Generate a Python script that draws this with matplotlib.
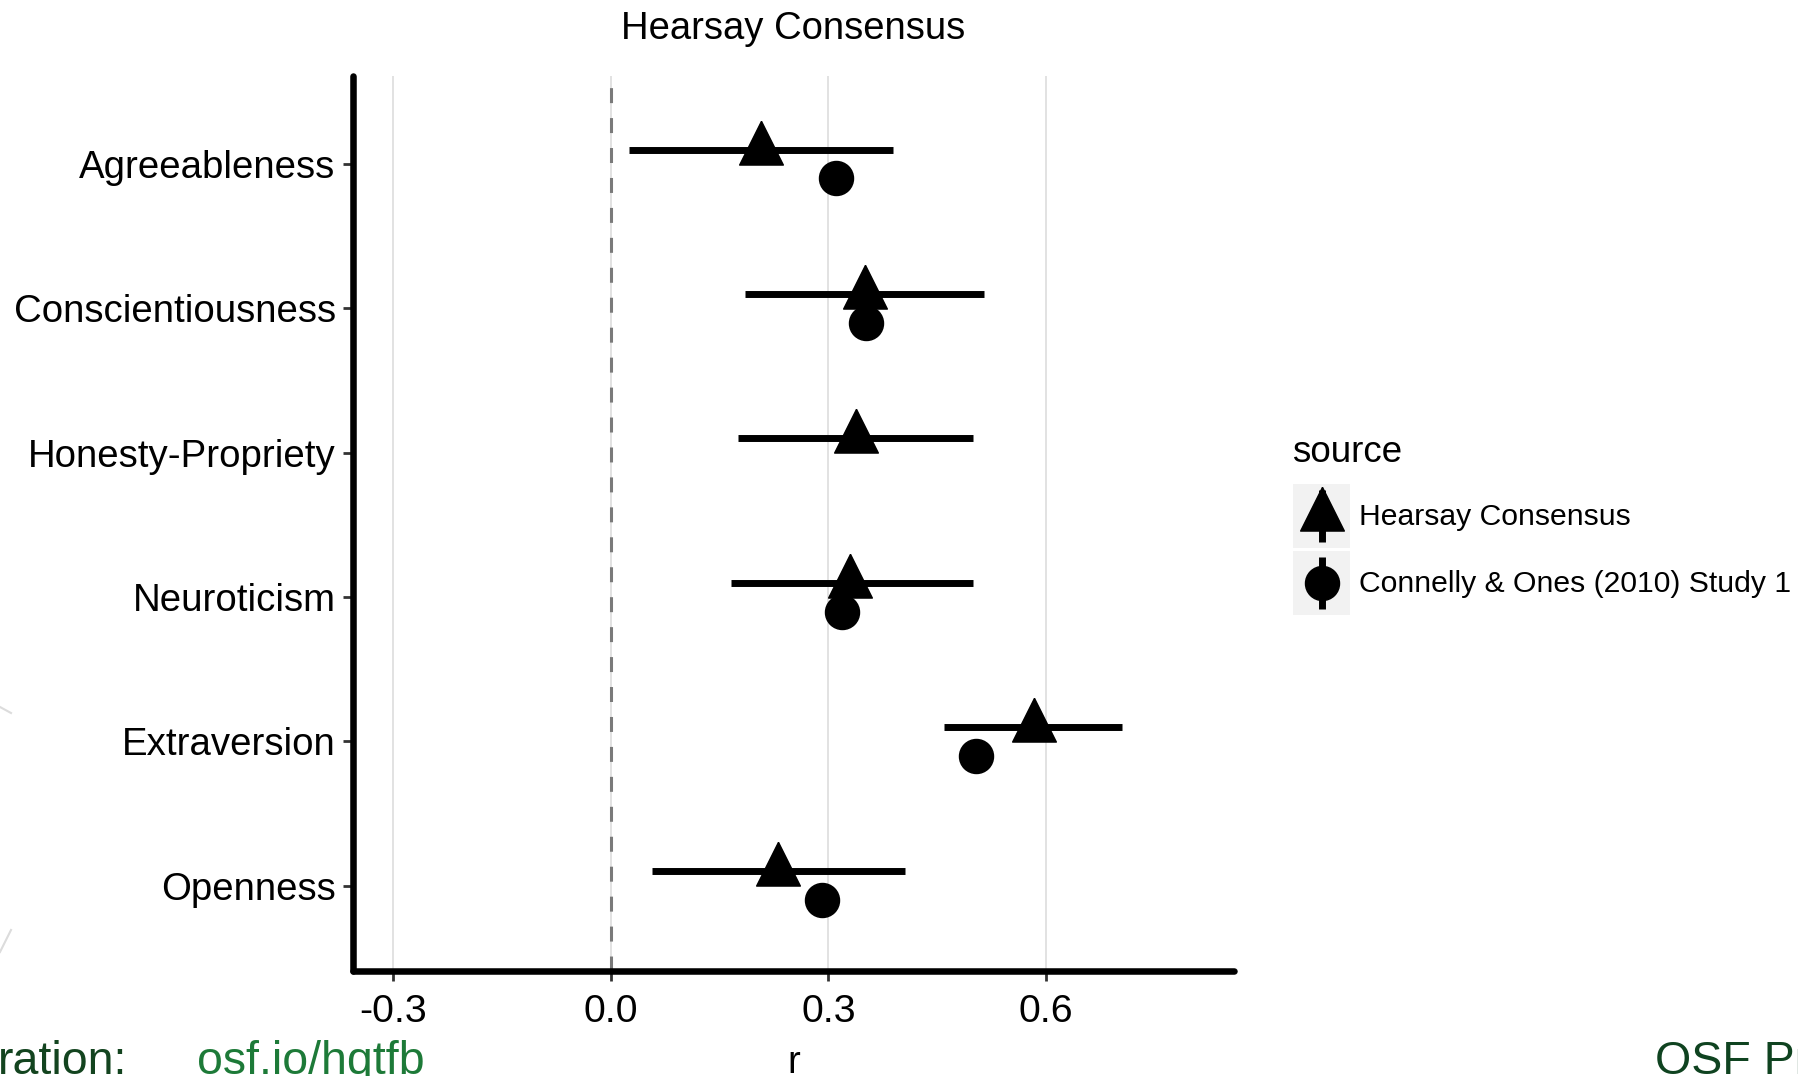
import numpy as np
import matplotlib.pyplot as plt
from matplotlib.patches import Rectangle

# --- data ---
traits = ['Agreeableness', 'Conscientiousness', 'Honesty-Propriety',
          'Neuroticism', 'Extraversion', 'Openness']
hearsay_r = [0.207, 0.350, 0.338, 0.330, 0.583, 0.231]
hearsay_lo = [0.025, 0.185, 0.175, 0.166, 0.460, 0.057]
hearsay_hi = [0.389, 0.515, 0.500, 0.499, 0.704, 0.406]
connelly_r = [0.311, 0.352, np.nan, 0.319, 0.503, 0.291]
series_labels = ['Hearsay Consensus', 'Connelly & Ones (2010) Study 1']
x_ticks = [-0.3, 0.0, 0.3, 0.6]

W, H = 1798, 1076
FONT = ['Liberation Sans', 'DejaVu Sans']
plt.rcParams['font.family'] = FONT

# triangle with its centroid at the origin (ggplot shape 17)
TRI = [(0, 0.667), (-0.5, -0.333), (0.5, -0.333), (0, 0.667)]
TRI_MS = 42
DOT_MS = 24.5

fig = plt.figure(figsize=(W / 100, H / 100), dpi=100)
fig.patch.set_facecolor('white')
ax = fig.add_axes([353 / W, 1 - 971 / H, (1234 - 353) / W, (971 - 76) / H])

pos = np.arange(len(traits))
dodge = 0.1

ax.grid(axis='x', color='#e2e2e2', lw=1.4)
ax.axvline(0, color='#7a7a7a', lw=2.2, ls=(0, (4.9, 4.9)), zorder=2)

ax.hlines(pos - dodge, hearsay_lo, hearsay_hi, color='black', lw=5, zorder=3)
ax.plot(hearsay_r, pos - dodge, ls='none', marker=TRI, ms=TRI_MS, color='black', zorder=4)
ax.plot(connelly_r, pos + dodge, ls='none', marker='o', ms=DOT_MS, color='black', zorder=4)

ax.set_xlim(-0.355, 0.859)
ax.set_ylim(len(traits) - 1 + 0.59, -0.61)
ax.set_xticks(x_ticks, [f'{v:.1f}' for v in x_ticks])
ax.set_yticks(pos, traits)
ax.tick_params(axis='both', colors='#333333', labelcolor='black', length=7.5, width=2)
ax.tick_params(axis='x', pad=9, labelsize=28.3)
ax.tick_params(axis='y', pad=5, labelsize=27.6)

for side in ['top', 'right']:
    ax.spines[side].set_visible(False)
for side in ['left', 'bottom']:
    ax.spines[side].set_linewidth(4.7)
    ax.spines[side].set_capstyle('round')
    ax.spines[side].set_zorder(5)

ax.set_xlabel('r', fontsize=27.5, va='top')
ax.xaxis.set_label_coords(0.5, -0.083)

fig.text(793 / W, 1 - 29 / H, 'Hearsay Consensus', ha='center', va='center', fontsize=27.5)

# overlay in pixel coordinates for the legend and the slide leftovers
lax = fig.add_axes([0, 0, 1, 1])
lax.set_xlim(0, W)
lax.set_ylim(H, 0)
lax.axis('off')
lax.patch.set_alpha(0)

lax.text(1292, 452, 'source', ha='left', va='center', fontsize=26.5)
key_tops = [484, 551]
key_markers = [(TRI, TRI_MS), ('o', DOT_MS)]
for top, (mk, ms), lab in zip(key_tops, key_markers, series_labels):
    lax.add_patch(Rectangle((1293, top), 57, 64, facecolor='#f2f2f2', edgecolor='none'))
    cy = top + 32
    lax.plot([1321.5, 1321.5], [cy - 26, cy + 26], color='black', lw=5, solid_capstyle='butt')
    lax.plot([1321.5], [cy], ls='none', marker=mk, ms=ms, color='black')
    lax.text(1359, cy + 1, lab, ha='left', va='center', fontsize=21.7)

# slide text under the chart (cut by the bottom edge, as in the screenshot)
lax.text(-2, 1074, 'ration:', fontsize=33.5, color='#13441f', va='baseline')
lax.text(197, 1074, 'osf.io/hqtfb', fontsize=33.5, color='#1d7a38', va='baseline')
lax.text(1655, 1074, 'OSF Project', fontsize=33.5, color='#0f4320', va='baseline')
lax.plot([0, 11], [707, 713], color='#dcdcdc', lw=1.5)
lax.plot([11, 0], [930, 952], color='#dcdcdc', lw=1.5)

fig.savefig('out.png', dpi=100)
